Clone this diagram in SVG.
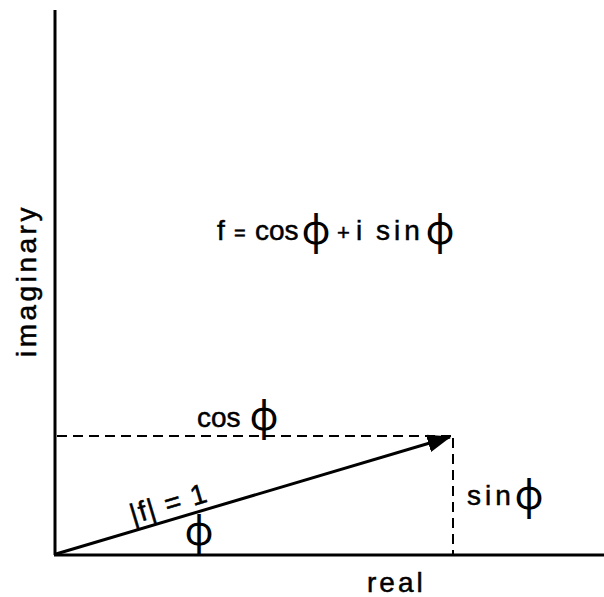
<svg xmlns="http://www.w3.org/2000/svg" width="604" height="597" viewBox="0 0 604 597">
<style>
.lbl{font-family:"Liberation Sans","DejaVu Sans",sans-serif;font-size:28px;fill:#000;stroke:#000;stroke-width:0.5}
.phi{font-family:"Noto Sans","DejaVu Sans",sans-serif;font-size:40px;text-anchor:middle;letter-spacing:0;stroke-width:0}
.axis{stroke:#000;stroke-width:3;fill:none}
.dash{stroke:#000;stroke-width:2;fill:none;stroke-dasharray:10 6}
</style>
<defs>
<marker id="ah" markerWidth="8" markerHeight="6" refX="7.5" refY="3" orient="auto" markerUnits="strokeWidth">
<path d="M0,0 L8,3 L0,6 Z" fill="#000"/>
</marker>
</defs>
<rect width="604" height="597" fill="#fff"/>
<g id="axes">
<line class="axis" x1="55" y1="10" x2="55" y2="555"/>
<line class="axis" x1="54" y1="555" x2="604" y2="555"/>
</g>
<g id="connectors">
<line class="dash" x1="57" y1="436" x2="453" y2="436"/>
<line class="dash" x1="453" y1="438" x2="453" y2="554"/>
<line x1="56" y1="554" x2="450" y2="437" stroke="#000" stroke-width="3" marker-end="url(#ah)"/>
</g>
<g id="label-imaginary">
<text class="lbl" transform="translate(36,357) rotate(-90)" letter-spacing="3.5">imaginary</text>
</g>
<g id="label-real">
<text class="lbl" x="367" y="592" letter-spacing="3">real</text>
</g>
<g id="label-formula">
<text class="lbl" y="240"><tspan x="217">f</tspan><tspan x="234" font-size="20">=</tspan><tspan x="255">cos</tspan><tspan class="phi" x="316" y="244">ϕ</tspan><tspan x="337" y="240" font-size="22">+</tspan><tspan x="356">i</tspan><tspan x="376" letter-spacing="4">sin</tspan><tspan class="phi" x="440" y="244">ϕ</tspan></text>
</g>
<g id="label-cos">
<text class="lbl" y="427"><tspan x="197">cos</tspan><tspan class="phi" x="264" y="430" font-size="36">ϕ</tspan></text>
</g>
<g id="label-sin">
<text class="lbl" y="505"><tspan x="467" letter-spacing="4">sin</tspan><tspan class="phi" x="529" y="509">ϕ</tspan></text>
</g>
<g id="label-modulus">
<text class="lbl" transform="translate(133,524) rotate(-16.6)" letter-spacing="1.5">|f| = 1</text>
</g>
<g id="label-angle">
<text class="lbl phi" x="199" y="545" font-size="42">ϕ</text>
</g>
</svg>
